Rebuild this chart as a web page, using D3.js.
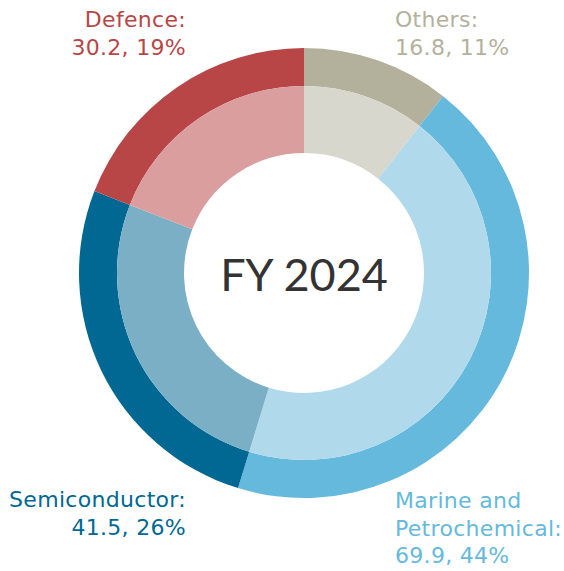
<!DOCTYPE html>
<html>
<head>
<meta charset="utf-8">
<script src="https://cdn.jsdelivr.net/npm/d3@7"></script>
<style>
  html, body { margin: 0; padding: 0; background: #fff; }
  svg { display: block; }
  text { font-family: "DejaVu Sans", sans-serif; }
</style>
</head>
<body>
<div id="chart"></div>
<script>
// segment data, clockwise from 12 o'clock
const categories = ["Others", "Marine and Petrochemical", "Semiconductor", "Defence"];
const values = [16.8, 69.9, 41.5, 30.2];
const shares = ["11%", "44%", "26%", "19%"];
const outerColors = ["#b3b19c", "#64b9dd", "#006893", "#b84647"];
const innerColors = ["#d8d7ce", "#b0daeb", "#7bafc6", "#da9e9e"];
const labelLines = [
    ["Others:", "16.8, 11%"],
    ["Marine and", "Petrochemical:", "69.9, 44%"],
    ["Semiconductor:", "41.5, 26%"],
    ["Defence:", "30.2, 19%"]
];
const centerLabel = "FY 2024";

const W = 564, H = 571;
const cx = 304, cy = 273;
const rOuter = 225, rMid = 187, rInner = 120;

const svg = d3.select("#chart").append("svg").attr("width", W).attr("height", H);
const g = svg.append("g").attr("transform", `translate(${cx},${cy})`);

const pie = d3.pie().sort(null).value(d => d);
const arcs = pie(values);

const outerArc = d3.arc().innerRadius(rMid).outerRadius(rOuter);
const innerArc = d3.arc().innerRadius(rInner).outerRadius(rMid);

g.selectAll("path.outer").data(arcs).enter().append("path")
    .attr("class", "outer")
    .attr("d", outerArc)
    .attr("fill", (d, i) => outerColors[i]);

g.selectAll("path.inner").data(arcs).enter().append("path")
    .attr("class", "inner")
    .attr("d", innerArc)
    .attr("fill", (d, i) => innerColors[i]);

g.append("text")
    .attr("x", 0).attr("y", 18)
    .attr("text-anchor", "middle")
    .attr("fill", "#333333")
    .style("font-family", "Lato, sans-serif")
    .style("font-size", "45px")
    .text(centerLabel);

// label positions (x, first baseline, anchor)
const labelPos = [
    { x: 395, y: 27, anchor: "start" },
    { x: 395, y: 508, anchor: "start" },
    { x: 186, y: 507, anchor: "end" },
    { x: 186, y: 27, anchor: "end" }
];

labelLines.forEach((lines, i) => {
    const p = labelPos[i];
    const t = svg.append("text")
        .attr("text-anchor", p.anchor)
        .attr("fill", outerColors[i])
        .style("font-size", "22px")
        .style("letter-spacing", "0.3px");
    lines.forEach((ln, j) => {
        t.append("tspan").attr("x", p.x).attr("y", p.y + j * 27.5).text(ln);
    });
});
</script>
</body>
</html>
